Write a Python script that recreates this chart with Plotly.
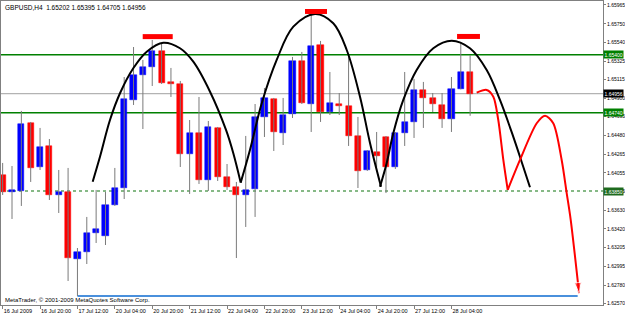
import plotly.graph_objects as go

# ---------------- data ----------------
opens = [1.64032, 1.63839, 1.63850, 1.64623, 1.64123, 1.64362, 1.63805, 1.63839, 1.63077, 1.63157,
         1.63373, 1.63339, 1.63691, 1.63884, 1.64885, 1.65169, 1.65260, 1.65442, 1.65090, 1.65067,
         1.64271, 1.64510, 1.63975, 1.64567, 1.64009, 1.63896, 1.63805, 1.63873, 1.64692, 1.64896,
         1.64510, 1.64726, 1.65328, 1.64839, 1.65510, 1.64748, 1.64839, 1.64817, 1.64476, 1.64089,
         1.64294, 1.64464, 1.64123, 1.64510, 1.64635, 1.64999, 1.64908, 1.64828, 1.64669, 1.65010,
         1.65202]
highs = [1.64169, 1.64134, 1.64760, 1.64635, 1.64567, 1.64441, 1.64089, 1.64112, 1.63202, 1.63555,
         1.63862, 1.63839, 1.64112, 1.65146, 1.65487, 1.65340, 1.65567, 1.65533, 1.65249, 1.65101,
         1.64657, 1.64919, 1.64646, 1.64578, 1.64157, 1.63953, 1.64476, 1.64839, 1.65021, 1.64908,
         1.64908, 1.65374, 1.65431, 1.65885, 1.65556, 1.65203, 1.64964, 1.65408, 1.64692, 1.64315,
         1.64521, 1.64475, 1.64520, 1.65203, 1.65124, 1.65090, 1.64964, 1.64964, 1.65146, 1.65544,
         1.65395]
lows = [1.63805, 1.63532, 1.63680, 1.63953, 1.64089, 1.63748, 1.63600, 1.62827, 1.62656, 1.63020,
        1.63259, 1.63236, 1.63680, 1.63759, 1.64828, 1.64555, 1.65044, 1.65067, 1.64919, 1.64123,
        1.63816, 1.63930, 1.63850, 1.63964, 1.63862, 1.63088, 1.63441, 1.63555, 1.64464, 1.64305,
        1.64373, 1.64680, 1.64839, 1.64521, 1.64635, 1.64714, 1.64714, 1.64362, 1.63884, 1.64078,
        1.64123, 1.63827, 1.64100, 1.64362, 1.64453, 1.64567, 1.64748, 1.64567, 1.64521, 1.65005,
        1.64705]
closes = [1.63839, 1.63862, 1.64612, 1.64112, 1.64350, 1.63805, 1.63839, 1.63088, 1.63157, 1.63373,
          1.63418, 1.63691, 1.63884, 1.64896, 1.65169, 1.65260, 1.65442, 1.65078, 1.65067, 1.64271,
          1.64510, 1.63975, 1.64578, 1.64009, 1.63896, 1.63805, 1.63862, 1.64692, 1.64908, 1.64521,
          1.64714, 1.65328, 1.64851, 1.65499, 1.64748, 1.64851, 1.64817, 1.64476, 1.64078, 1.64305,
          1.64248, 1.64123, 1.64510, 1.64635, 1.64999, 1.64908, 1.64839, 1.64669, 1.65010, 1.65203,
          1.64956]

x_tick_bars = [0, 4, 8, 12, 16, 20, 24, 28, 32, 36, 40, 44, 48]
x_tick_labels = ["16 Jul 2009", "16 Jul 20:00", "17 Jul 12:00", "20 Jul 04:00", "20 Jul 20:00",
                 "21 Jul 12:00", "22 Jul 04:00", "22 Jul 20:00", "23 Jul 12:00", "24 Jul 04:00",
                 "24 Jul 20:00", "27 Jul 12:00", "28 Jul 04:00"]
y_tick_labels = ["1.65965", "1.65750", "1.65540", "1.65325", "1.65115", "1.64900", "1.64695",
                 "1.64480", "1.64265", "1.64055", "1.63845", "1.63630", "1.63420", "1.63205",
                 "1.62995", "1.62780", "1.62570"]

title_text = "GBPUSD,H4  1.65202 1.65395 1.64705 1.64956"
copyright_text = "MetaTrader, © 2001-2009 MetaQuotes Software Corp."

green_levels = [1.65400, 1.64740]
green_level_labels = ["1.65400", "1.64740"]
neck_level = 1.63850
neck_label = "1.63850"
bid_level = 1.64956
bid_label = "1.64956"
target_level = 1.62656
target_start_bar = 8
target_end_bar = 61.5

arc1_x = [9.63, 10.41, 11.48, 12.55, 13.97, 15.41, 17.18, 18.97, 20.39, 22.18, 23.89, 24.67, 25.46]
arc1_y = [1.63956, 1.64240, 1.64657, 1.64961, 1.65245, 1.65434, 1.65536, 1.65473, 1.65320, 1.64979,
          1.64544, 1.64279, 1.63945]
arc2_x = [25.46, 26.45, 27.71, 29.31, 31.09, 33.41, 35.36, 36.80, 38.22, 39.29, 40.47]
arc2_y = [1.63945, 1.64316, 1.64847, 1.65340, 1.65718, 1.65863, 1.65757, 1.65453, 1.64922, 1.64396,
          1.63899]
arc3_x = [40.36, 41.07, 41.78, 42.85, 44.28, 46.06, 48.03, 49.98, 51.77, 53.19, 54.61, 55.68, 56.40]
arc3_y = [1.63899, 1.64165, 1.64506, 1.64885, 1.65226, 1.65473, 1.65559, 1.65473, 1.65226, 1.64885,
          1.64468, 1.64126, 1.63892]

path1_x = [50.70, 51.77, 52.48, 53.01, 53.55, 54.02]
path1_y = [1.64968, 1.64999, 1.64922, 1.64657, 1.64203, 1.63862]
path2_x = [54.02, 55.33, 57.12, 58.01, 58.89, 59.79, 60.33, 60.76, 61.65]
path2_y = [1.63862, 1.64203, 1.64620, 1.64706, 1.64620, 1.64203, 1.63824, 1.63520, 1.62690]

top_marks_x0 = [14.98, 32.34, 48.60]
top_marks_x1 = [18.19, 34.69, 51.05]
top_marks_y = [1.65605, 1.65891, 1.65607]

# ---------------- figure ----------------
BLUE = "#0000ff"
RED = "#ff0000"
WICK = "#7a7a7a"
FONT = "Liberation Sans"

fig = go.Figure()

wx, wy = [], []
for i, (h, l) in enumerate(zip(highs, lows)):
    wx += [i, i, None]
    wy += [l, h, None]
fig.add_trace(go.Scatter(x=wx, y=wy, mode="lines", line=dict(color=WICK, width=1),
                         hoverinfo="skip"))

idx = list(range(len(opens)))
bases = [min(o, c) for o, c in zip(opens, closes)]
heights = [max(abs(c - o), 0.00004) for o, c in zip(opens, closes)]
cols = [BLUE if c >= o else RED for o, c in zip(opens, closes)]
fig.add_trace(go.Bar(x=idx, y=heights, base=bases, width=0.66,
                     marker=dict(color=cols, line=dict(color=cols, width=0.5))))

for ax_, ay_ in [(arc1_x, arc1_y), (arc2_x, arc2_y), (arc3_x, arc3_y)]:
    fig.add_trace(go.Scatter(x=ax_, y=ay_, mode="lines",
                             line=dict(color="black", width=2, shape="spline", smoothing=1.0)))

fig.add_trace(go.Scatter(x=path1_x, y=path1_y, mode="lines",
                         line=dict(color=RED, width=2, shape="spline", smoothing=0.8)))
fig.add_trace(go.Scatter(x=path2_x, y=path2_y, mode="lines",
                         line=dict(color=RED, width=2, shape="spline", smoothing=0.8)))
fig.add_trace(go.Scatter(x=path2_x[-2:], y=path2_y[-2:], mode="markers",
                         marker=dict(symbol="arrow", size=[0, 11], angleref="previous",
                                     color=RED)))

for x0, x1, yv in zip(top_marks_x0, top_marks_x1, top_marks_y):
    fig.add_trace(go.Scatter(x=[x0, x1], y=[yv, yv], mode="lines",
                             line=dict(color=RED, width=5)))

shapes = []
for lv in green_levels:
    shapes.append(dict(type="line", xref="paper", x0=0, x1=1, yref="y", y0=lv, y1=lv,
                       line=dict(color="#008000", width=1.5), layer="below"))
shapes.append(dict(type="line", xref="paper", x0=0, x1=1, yref="y", y0=neck_level, y1=neck_level,
                   line=dict(color="#5fa35f", width=1.5, dash="dot"), layer="below"))
shapes.append(dict(type="line", xref="paper", x0=0, x1=1, yref="y", y0=bid_level, y1=bid_level,
                   line=dict(color="#a0a0a0", width=1), layer="below"))
shapes.append(dict(type="line", xref="x", x0=target_start_bar, x1=target_end_bar, yref="y",
                   y0=target_level, y1=target_level,
                   line=dict(color="#4a90dc", width=2), layer="below"))

annotations = [
    dict(text=title_text, xref="paper", yref="paper", x=0, y=1, xanchor="left", yanchor="top",
         xshift=2, yshift=-1, showarrow=False, font=dict(family=FONT, size=6.5, color="black")),
    dict(text=copyright_text, xref="paper", yref="paper", x=0, y=0, xanchor="left",
         yanchor="bottom", xshift=2, yshift=0, showarrow=False,
         font=dict(family=FONT, size=6, color="black")),
]
for lv, lab in zip(green_levels, green_level_labels):
    annotations.append(dict(text=lab, xref="paper", yref="y", x=1, y=lv, xanchor="left",
                            yanchor="middle", showarrow=False, bgcolor="#008000", borderpad=0.5,
                            font=dict(family=FONT, size=5, color="white")))
annotations.append(dict(text=neck_label, xref="paper", yref="y", x=1, y=neck_level, xanchor="left",
                        yanchor="middle", showarrow=False, bgcolor="#1e6b1e", borderpad=0.5,
                        font=dict(family=FONT, size=5, color="white")))
annotations.append(dict(text=bid_label, xref="paper", yref="y", x=1, y=bid_level, xanchor="left",
                        yanchor="middle", showarrow=False, bgcolor="black", borderpad=0.5,
                        font=dict(family=FONT, size=5, color="white")))

fig.update_layout(
    width=625, height=316,
    margin=dict(l=1, r=22, t=1, b=11, pad=0),
    paper_bgcolor="white", plot_bgcolor="white",
    showlegend=False, barmode="overlay", bargap=0,
    shapes=shapes, annotations=annotations,
    xaxis=dict(range=[-0.176, 64.21], tickvals=x_tick_bars, ticktext=x_tick_labels,
               tickangle=0,
               ticks="outside", ticklen=3, tickcolor="#808080", ticklabelposition="outside right",
               tickfont=dict(family=FONT, size=5.5, color="black"), showgrid=False,
               zeroline=False, showline=True, linecolor="#808080", linewidth=1, mirror=True,
               automargin=False),
    yaxis=dict(range=[1.62554, 1.66010], side="right",
               tickvals=[float(v) for v in y_tick_labels], ticktext=y_tick_labels,
               ticks="outside", ticklen=2, tickcolor="#808080",
               tickfont=dict(family=FONT, size=5, color="black"), showgrid=False,
               zeroline=False, showline=True, linecolor="#808080", linewidth=1, mirror=True,
               automargin=False),
)

fig.write_html("out.html")
